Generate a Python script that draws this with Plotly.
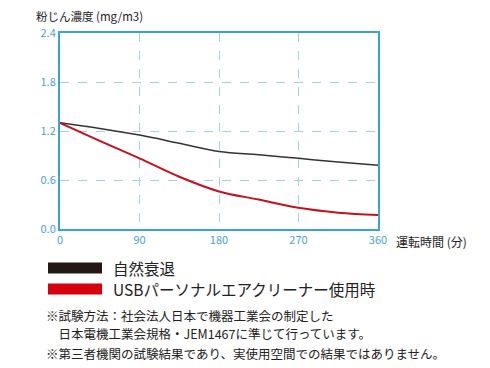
import plotly.graph_objects as go

minutes = [0, 45, 90, 135, 180, 225, 270, 315, 360]
natural = [1.30, 1.23, 1.15, 1.05, 0.95, 0.91, 0.865, 0.82, 0.78]
cleaner = [1.30, 1.08, 0.865, 0.64, 0.46, 0.36, 0.26, 0.20, 0.17]
x_ticks = [0, 90, 180, 270, 360]
y_ticks = [0.0, 0.6, 1.2, 1.8, 2.4]
y_tick_text = ["0.0", "0.6", "1.2", "1.8", "2.4"]
series_names = ["自然衰退", "USBパーソナルエアクリーナー使用時"]
notes = [
    "※試験方法：社会法人日本で機器工業会の制定した",
    "　日本電機工業会規格・JEM1467に準じて行っています。",
    "※第三者機関の試験結果であり、実使用空間での結果ではありません。",
]

FONT = "Noto Sans CJK JP"
AXIS_BLUE = "#3aa3cf"
TICK_BLUE = "#4aa2cc"
GRID_BLUE = "#9fd0e6"

# page body has an 8px margin; work in window pixels and shift
OFF = 8
W, H = 490 - OFF, 368 - OFF
L, T = 60 - OFF, 33 - OFF
R = 490 - 378
B = 368 - 229
pw, ph = W - L - R, H - T - B

def px(x):
    return (x - OFF - L) / pw

def py(y):
    return (H - B - (y - OFF)) / ph

fig = go.Figure()
fig.add_trace(go.Scatter(x=minutes, y=natural, mode="lines",
                         line=dict(color="#333333", width=1.5, shape="spline"),
                         name=series_names[0], showlegend=False))
fig.add_trace(go.Scatter(x=minutes, y=cleaner, mode="lines",
                         line=dict(color="#c5111c", width=2, shape="spline"),
                         name=series_names[1], showlegend=False))

fig.update_layout(
    width=W, height=H,
    margin=dict(l=L, r=R, t=T, b=B),
    paper_bgcolor="white", plot_bgcolor="white",
    font=dict(family=FONT, color="#222222"),
    xaxis=dict(range=[0, 360], tickvals=x_ticks, ticktext=[str(v) for v in x_ticks],
               showline=True, mirror=True, linecolor=AXIS_BLUE, linewidth=2,
               showgrid=True, gridcolor=GRID_BLUE, griddash="dash", gridwidth=1,
               zeroline=False, ticks="", tickfont=dict(size=11, color=TICK_BLUE, family=FONT)),
    yaxis=dict(range=[0, 2.4], tickvals=y_ticks, ticktext=y_tick_text,
               showline=True, mirror=True, linecolor=AXIS_BLUE, linewidth=2,
               showgrid=True, gridcolor=GRID_BLUE, griddash="dash", gridwidth=1,
               zeroline=False, ticks="", tickfont=dict(size=11, color=TICK_BLUE, family=FONT)),
)

ann = []
ann.append(dict(text="粉じん濃度 (mg/m3)", x=px(34), y=py(16), xref="paper", yref="paper",
                xanchor="left", yanchor="middle", showarrow=False,
                font=dict(size=11.5, color="#222222")))
ann.append(dict(text="運転時間 (分)", x=px(394), y=py(241), xref="paper", yref="paper",
                xanchor="left", yanchor="middle", showarrow=False,
                font=dict(size=12, color="#222222")))

shapes = []
legend_colors = ["#231815", "#d7000f"]
legend_y = [268, 289]
for name, col, yc in zip(series_names, legend_colors, legend_y):
    shapes.append(dict(type="rect", xref="paper", yref="paper", x0=px(48), x1=px(102),
                       y0=py(yc - 5.5), y1=py(yc + 5.5), fillcolor=col, line=dict(width=0)))
    ann.append(dict(text=name, x=px(111), y=py(yc), xref="paper", yref="paper",
                    xanchor="left", yanchor="middle", showarrow=False,
                    font=dict(size=15.5, color="#222222")))

for text, yc in zip(notes, [315, 333, 353]):
    ann.append(dict(text=text, x=px(44), y=py(yc), xref="paper", yref="paper",
                    xanchor="left", yanchor="middle", showarrow=False,
                    font=dict(size=12.5, color="#222222")))

fig.update_layout(annotations=ann, shapes=shapes)
fig.write_html("out.html")
